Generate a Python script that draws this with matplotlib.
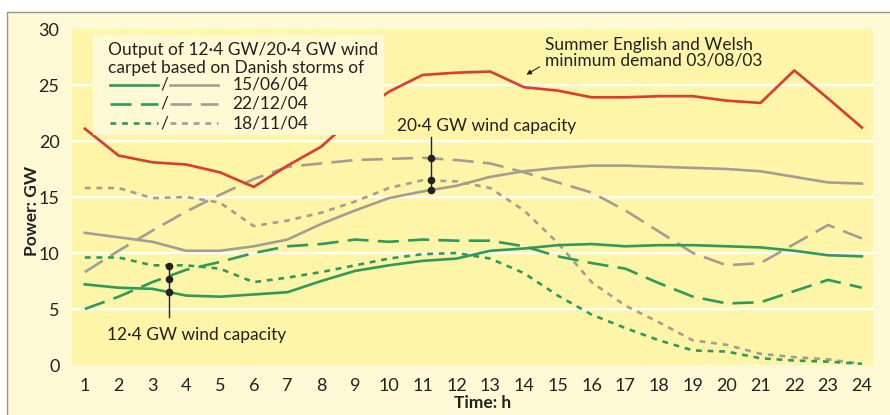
import matplotlib
matplotlib.use("Agg")
import matplotlib.pyplot as plt
from matplotlib.lines import Line2D
from matplotlib.patches import Rectangle

plt.rcParams['font.family'] = ['Lato', 'DejaVu Sans']

# hours 1..24
hours = list(range(1, 25))

# summer English and Welsh minimum demand 03/08/03
demand = [21.1, 18.7, 18.1, 17.9, 17.2, 15.9, 17.8, 19.5, 22.2, 24.4, 25.9, 26.1,
          26.2, 24.8, 24.5, 23.9, 23.9, 24.0, 24.0, 23.6, 23.4, 26.3, 23.8, 21.2]

# 12.4 GW wind carpet (green)
g_150604 = [7.2, 6.9, 6.8, 6.2, 6.1, 6.3, 6.5, 7.5, 8.4, 8.9, 9.3, 9.5,
            10.2, 10.4, 10.7, 10.8, 10.6, 10.7, 10.7, 10.6, 10.5, 10.2, 9.8, 9.7]
g_221204 = [5.0, 6.1, 7.4, 8.5, 9.2, 10.0, 10.6, 10.8, 11.2, 11.0, 11.2, 11.1,
            11.1, 10.6, 9.7, 9.1, 8.6, 7.3, 6.1, 5.5, 5.6, 6.6, 7.6, 6.9]
g_181104 = [9.6, 9.6, 8.9, 8.9, 8.6, 7.4, 7.8, 8.3, 8.9, 9.5, 9.9, 10.0,
            9.5, 8.2, 6.2, 4.5, 3.3, 2.2, 1.3, 1.2, 0.6, 0.4, 0.3, 0.1]

# 20.4 GW wind carpet (grey)
w_150604 = [11.8, 11.4, 11.0, 10.2, 10.2, 10.6, 11.2, 12.6, 13.8, 14.9, 15.5, 16.0,
            16.8, 17.3, 17.6, 17.8, 17.8, 17.7, 17.6, 17.5, 17.3, 16.8, 16.3, 16.2]
w_221204 = [8.3, 10.2, 12.0, 13.7, 15.2, 16.6, 17.7, 18.0, 18.3, 18.4, 18.5, 18.3,
            18.0, 17.2, 16.3, 15.4, 13.8, 11.9, 10.0, 8.9, 9.1, 10.8, 12.5, 11.3]
w_181104 = [15.8, 15.8, 14.9, 15.0, 14.5, 12.4, 12.9, 13.6, 14.6, 15.8, 16.5, 16.4,
            15.8, 13.8, 10.9, 7.4, 5.3, 3.8, 2.2, 1.8, 1.0, 0.7, 0.5, 0.1]

# capacity markers
cap12_x = 3.5
cap12_y = [8.8, 7.7, 6.5]
cap20_x = 11.25
cap20_y = [18.5, 16.5, 15.6]

red = '#E03A2E'
green = '#2E9A5C'
grey = '#A39D94'
ink = '#222222'
plot_bg = '#FFF5A8'
outer_bg = '#FFF9D6'
lw = 1.9
fs = 12.5
dash_long = (0, (8, 3.5))
dash_short = (0, (2.2, 2.2))

fig = plt.figure(figsize=(8.9, 4.15), dpi=100)
fig.patch.set_facecolor('white')
fig.patches.append(Rectangle((7 / 890, -0.01), 1.0, (415 - 12) / 415 + 0.01,
                             transform=fig.transFigure, facecolor=outer_bg,
                             edgecolor='#9A958C', linewidth=1.0, zorder=-5))

ax = fig.add_axes([72 / 890, 50 / 415, 801 / 890, 336 / 415])
ax.set_facecolor(plot_bg)
for s in ax.spines.values():
    s.set_visible(False)

ax.set_xlim(0.62, 24.33)
ax.set_ylim(0, 30)
ax.set_yticks([0, 5, 10, 15, 20, 25, 30])
ax.set_xticks(hours)
ax.tick_params(length=0, labelsize=13, colors=ink)
ax.tick_params(axis='x', pad=9)
ax.tick_params(axis='y', pad=9)
for y in [5, 10, 15, 20, 25]:
    ax.axhline(y, color='white', lw=1.6, zorder=1)

ax.plot(hours, w_150604, color=grey, lw=lw, zorder=3)
ax.plot(hours, w_221204, color=grey, lw=lw, ls=dash_long, zorder=3)
ax.plot(hours, w_181104, color=grey, lw=lw, ls=dash_short, zorder=3)
ax.plot(hours, g_150604, color=green, lw=lw, zorder=4)
ax.plot(hours, g_221204, color=green, lw=lw, ls=dash_long, zorder=4)
ax.plot(hours, g_181104, color=green, lw=lw, ls=dash_short, zorder=4)
ax.plot(hours, demand, color=red, lw=lw, zorder=5)

# capacity annotations
ax.plot([cap12_x, cap12_x], [4.3, max(cap12_y)], color=ink, lw=1.0, zorder=6)
ax.plot([cap12_x] * 3, cap12_y, 'o', color=ink, ms=4.5, zorder=6)
ax.text(1.65, 2.7, '12·4 GW wind capacity', fontsize=fs, va='center', ha='left', color=ink)
ax.plot([cap20_x, cap20_x], [20.4, min(cap20_y)], color=ink, lw=1.0, zorder=6)
ax.plot([cap20_x] * 3, cap20_y, 'o', color=ink, ms=4.5, zorder=6)
ax.text(10.25, 21.35, '20·4 GW wind capacity', fontsize=fs, va='center', ha='left', color=ink)

ax.annotate('', xy=(14.0, 25.8), xytext=(14.53, 26.75),
            arrowprops=dict(arrowstyle='-|>', color=ink, lw=0.8, mutation_scale=7))
ax.text(14.62, 27.9, 'Summer English and Welsh\nminimum demand 03/08/03', fontsize=fs,
        va='center', ha='left', color=ink, linespacing=1.0)

# legend block
ax.add_patch(Rectangle((0.026, 0.685), 0.364, 0.297, transform=ax.transAxes,
                       facecolor=outer_bg, edgecolor='none', zorder=7))
ax.text(0.045, 0.938, 'Output of 12·4 GW/20·4 GW wind', transform=ax.transAxes,
        fontsize=fs, va='center', ha='left', color=ink, zorder=8)
ax.text(0.045, 0.884, 'carpet based on Danish storms of', transform=ax.transAxes,
        fontsize=fs, va='center', ha='left', color=ink, zorder=8)
leg_rows = [('15/06/04', '-'), ('22/12/04', dash_long), ('18/11/04', dash_short)]
for i, (label, style) in enumerate(leg_rows):
    yy = 0.834 - i * 0.057
    ax.add_line(Line2D([0.047, 0.107], [yy, yy], transform=ax.transAxes, color=green,
                       lw=lw, ls=style, zorder=8))
    ax.text(0.111, yy, '/', transform=ax.transAxes, fontsize=fs, va='center',
            ha='left', color=ink, zorder=8)
    ax.add_line(Line2D([0.122, 0.182], [yy, yy], transform=ax.transAxes, color=grey,
                       lw=lw, ls=style, zorder=8))
    ax.text(0.2, yy, label, transform=ax.transAxes, fontsize=fs, va='center',
            ha='left', color=ink, zorder=8)

ax.set_ylabel('Power: GW', fontsize=fs, fontweight='bold', color=ink)
ax.yaxis.set_label_coords(-0.040, 0.46)
ax.set_xlabel('Time: h', fontsize=fs, fontweight='bold', color=ink)
ax.xaxis.set_label_coords(0.513, -0.088)

fig.savefig('out.png', dpi=100)
